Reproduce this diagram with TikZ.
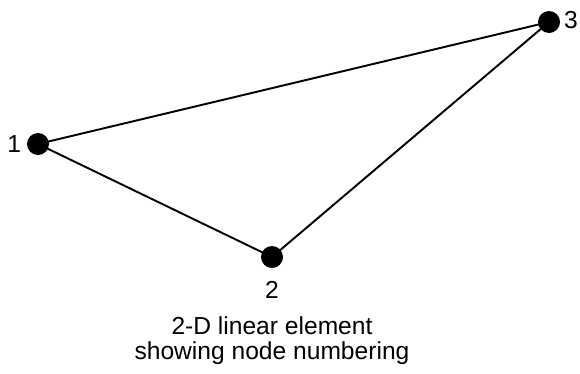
\documentclass[tikz,border=0pt]{standalone}
\usepackage{fontspec}
\setmainfont{Liberation Sans}
\usetikzlibrary{positioning}
\tikzset{
	vertex/.style={circle, fill=black, inner sep=0pt, minimum size=0.44cm},
	numlabel/.style={font=\fontsize{14}{16}\selectfont, inner sep=1pt},
	edge/.style={line width=1.1pt}
}
\begin{document}
\begin{tikzpicture}[x=0.02cm, y=-0.02cm]
		\useasboundingbox (0,0) rectangle (580,373);
		% corner nodes of the element
		\node[vertex] (n1) at (38,144) {};
		\node[vertex] (n2) at (272,257) {};
		\node[vertex] (n3) at (549,22) {};
		\draw[edge] (n1.center) -- (n3.center) -- (n2.center) -- cycle;
		\node[numlabel, left=2pt of n1] (l1) {1};
		\node[numlabel, below=6pt of n2] (l2) {2};
		\node[numlabel, right=1pt of n3, yshift=1pt] (l3) {3};
		\node[font=\fontsize{14}{14.5}\selectfont, align=center, inner sep=1pt, below=8pt of l2] (cap) {2-D linear element\\showing node numbering};
	\end{tikzpicture}
\end{document}
